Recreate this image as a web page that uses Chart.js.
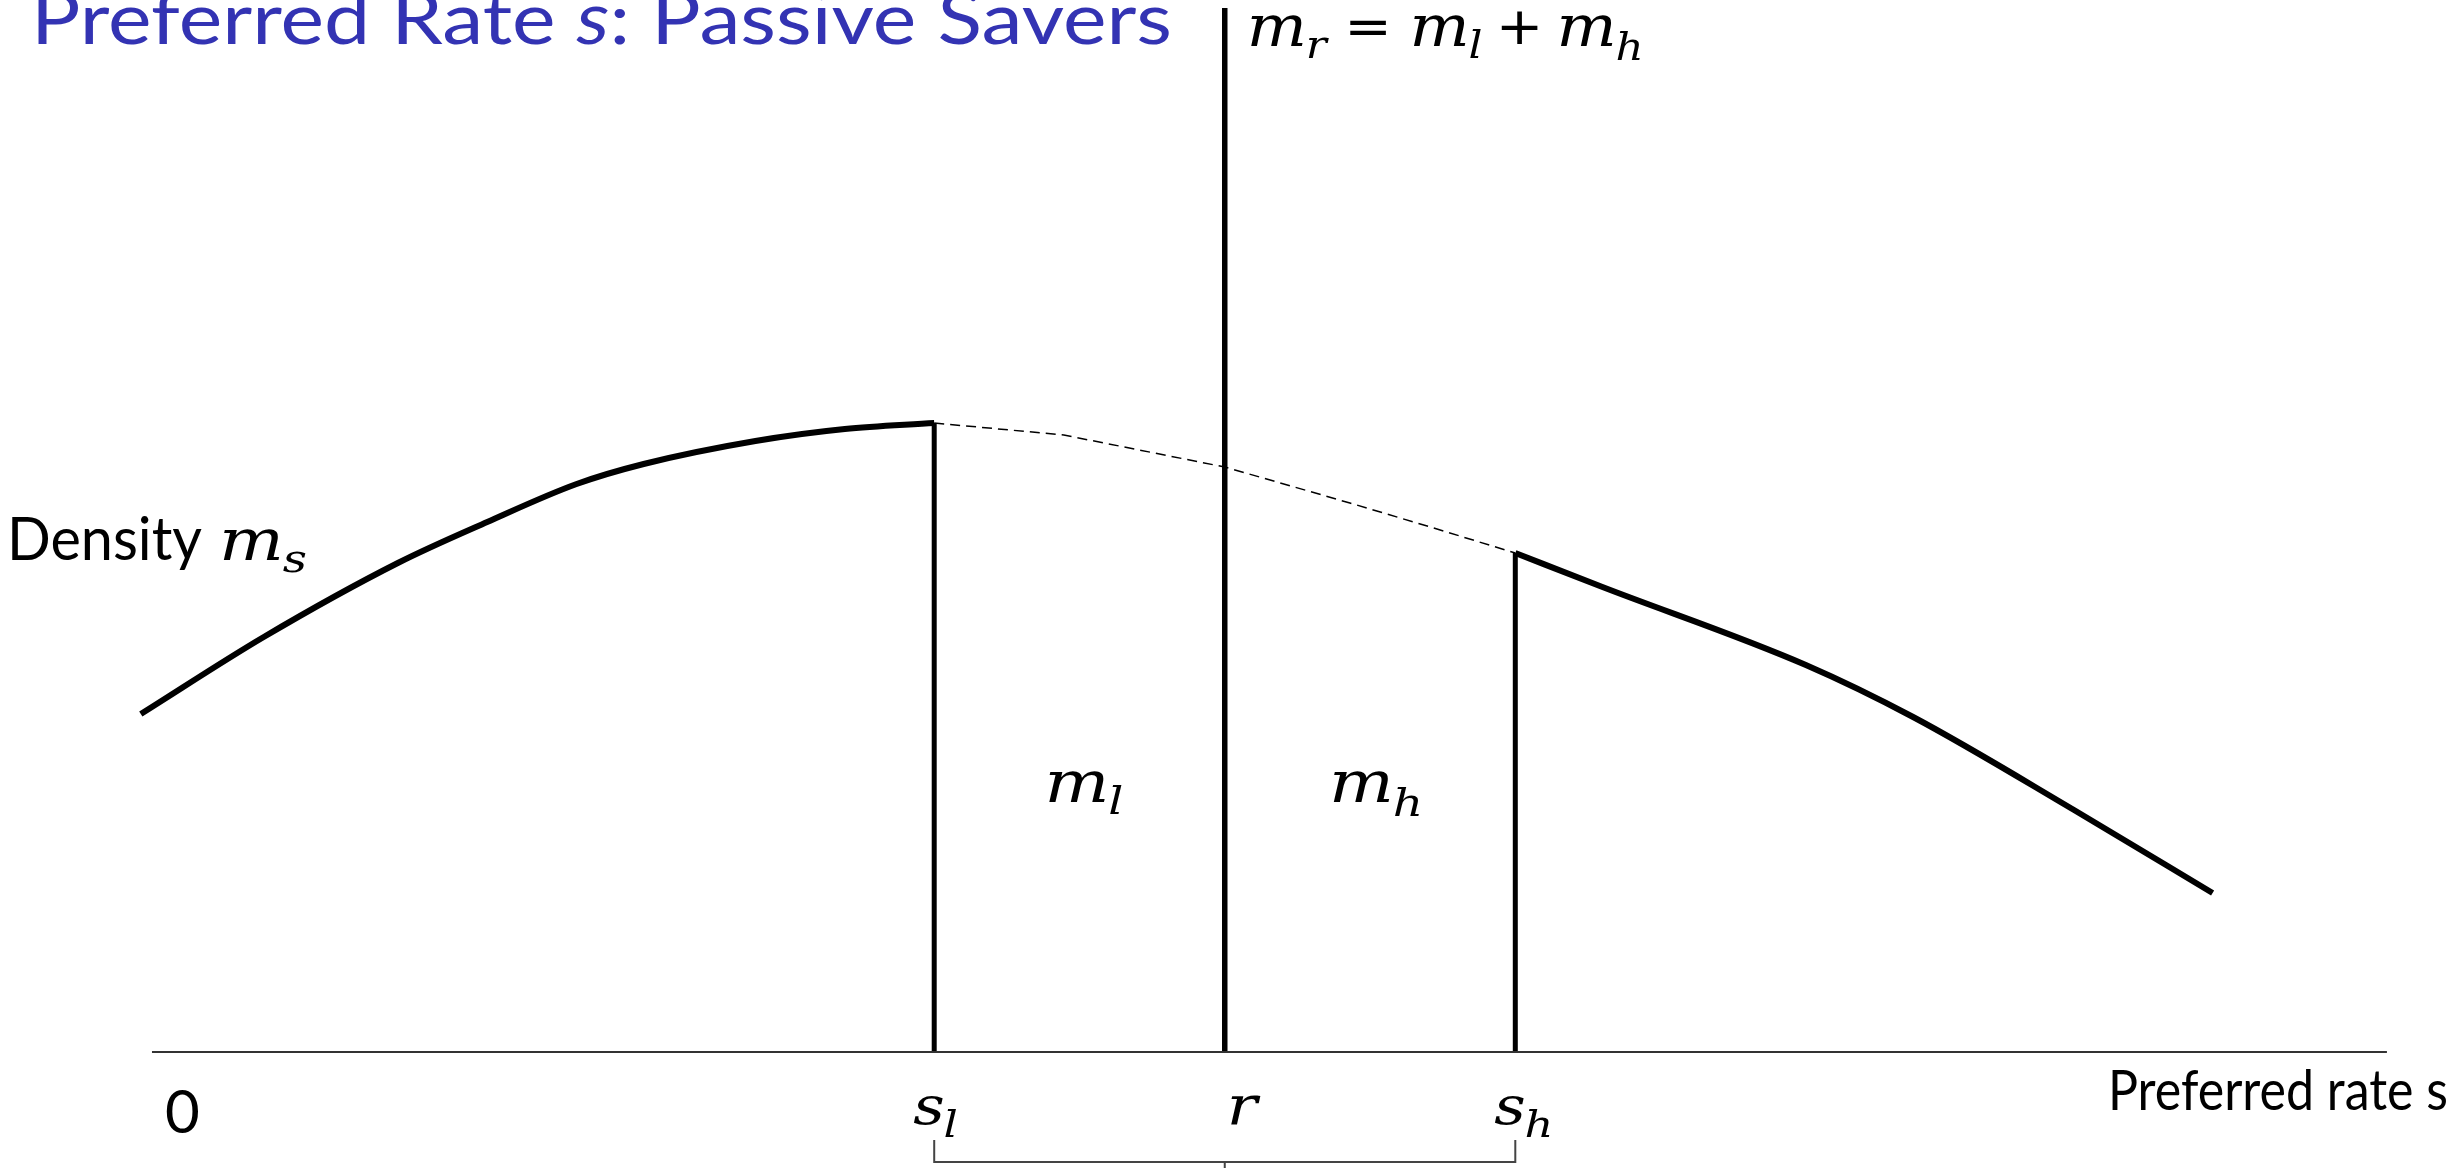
<!DOCTYPE html>
<html><head><meta charset="utf-8">
<script src="https://cdn.jsdelivr.net/npm/chart.js@4/dist/chart.umd.min.js"></script>
<style>html,body{margin:0;padding:0;background:#fff;overflow:hidden}canvas{display:block}</style>
</head><body>
<canvas id="c" width="2458" height="1168"></canvas>
<script>
// ---------- data ----------
const leftCurveX  = [-0.05, 0.5, 1.1, 1.5, 1.9, 2.2, 2.7, 3.1, 3.5];
const leftCurveY  = [3.38, 4.15, 4.89, 5.30, 5.68, 5.88, 6.11, 6.23, 6.29];
const hiddenX     = [3.5, 4.08, 4.8, 5.36, 5.72, 6.1];
const hiddenY     = [6.29, 6.17, 5.85, 5.49, 5.25, 4.99];
const rightCurveX = [6.1, 6.49, 7.4, 7.88, 8.6, 9.22];
const rightCurveY = [4.99, 4.65, 3.87, 3.35, 2.42, 1.59];
const sL = 3.5, rRate = 4.8, sH = 6.1;
const rLineTop = 10.44;
const axisX = [0, 10];
const tickValues = [0, sL, rRate, sH];
const tickLabels = ["0", "s_l", "r", "s_h"];

// ---------- helpers ----------
const pts = (xs, ys) => xs.map((x, i) => ({x, y: ys[i]}));
const base = {showLine: true, pointRadius: 0, borderColor: '#000', clip: false, fill: false};

const datasets = [
  {...base, data: pts(hiddenX, hiddenY), borderWidth: 1.5, borderDash: [10, 6]},
  {...base, data: pts(axisX, [0, 0]), borderWidth: 2, borderColor: '#333'},
  {...base, data: pts(leftCurveX, leftCurveY), borderWidth: 6, cubicInterpolationMode: 'monotone'},
  {...base, data: pts(rightCurveX, rightCurveY), borderWidth: 6, cubicInterpolationMode: 'monotone'},
  {...base, data: pts([sL, sL], [0, leftCurveY[leftCurveY.length - 1]]), borderWidth: 5},
  {...base, data: pts([rRate, rRate], [0, rLineTop]), borderWidth: 5.5},
  {...base, data: pts([sH, sH], [0, rightCurveY[0]]), borderWidth: 5},
  // bracket below the tick labels
  {...base, data: pts([sL, sL, sH, sH], [-0.88, -1.10, -1.10, -0.88]), borderWidth: 2, borderColor: '#444'},
  {...base, data: pts([rRate, rRate], [-1.10, -1.2]), borderWidth: 2, borderColor: '#444'}
];

const SANS = 'Lato, "DejaVu Sans", sans-serif';
const MATH = '"DejaVu Serif", serif';
const MSTRETCH = 1.18;

function fitText(ctx, parts, x, y, width) {
  let total = 0;
  parts.forEach(p => { ctx.font = p.font; total += ctx.measureText(p.text).width; });
  ctx.save();
  ctx.translate(x, y);
  ctx.scale(width / total, 1);
  let cx = 0;
  parts.forEach(p => { ctx.font = p.font; ctx.fillStyle = p.color || '#000'; ctx.fillText(p.text, cx, 0); cx += ctx.measureText(p.text).width; });
  ctx.restore();
}
function layout(ctx, tokens) {
  let w = 0;
  tokens.forEach(t => { ctx.font = t.font; t.w = ctx.measureText(t.text).width; w += t.w + (t.gap || 0); });
  return w;
}
function drawTokens(ctx, tokens, x, y, sx) {
  const w = layout(ctx, tokens);
  ctx.save();
  ctx.translate(x, y);
  ctx.scale(sx, 1);
  ctx.fillStyle = '#000';
  let cx = 0;
  tokens.forEach(t => { ctx.font = t.font; ctx.fillText(t.text, cx, t.dy || 0); cx += t.w + (t.gap || 0); });
  ctx.restore();
  return w * sx;
}
const M = (s) => 'italic ' + s + 'px ' + MATH;
function mathSub(ctx, main, sub, x, y, size, subSize, subDy) {
  const toks = [{text: main, font: M(size), gap: -1}];
  if (sub) toks.push({text: sub, font: M(subSize), dy: subDy});
  return drawTokens(ctx, toks, x, y, MSTRETCH);
}

const textPlugin = {
  id: 'texts',
  afterDatasetsDraw(chart) {
    const ctx = chart.ctx, xs = chart.scales.x;
    ctx.save();
    ctx.textBaseline = 'alphabetic';
    ctx.textAlign = 'left';
    // title
    const tFont = '72px ' + SANS, tIt = 'italic 72px ' + SANS, blue = '#3333B3';
    fitText(ctx, [{text: 'Preferred Rate ', font: tFont, color: blue}, {text: 's', font: tIt, color: blue}, {text: ': Passive Savers', font: tFont, color: blue}], 31, 44, 1141);
    // y label
    fitText(ctx, [{text: 'Density', font: '60px ' + SANS}], 7, 560, 195);
    mathSub(ctx, 'm', 's', 219, 560, 58, 40, 12);
    // x label
    fitText(ctx, [{text: 'Preferred rate s', font: '56px ' + SANS}], 2108, 1110, 340);
    // tick labels
    tickValues.forEach((v, i) => {
      const px = xs.getPixelForValue(v);
      const lab = tickLabels[i];
      if (lab === '0') {
        ctx.fillStyle = '#000';
        ctx.font = '60px ' + SANS;
        ctx.fillText('0', px + 13, 1133);
      } else if (lab === 'r') {
        mathSub(ctx, 'r', null, px + 2, 1124, 54, 38, 0);
      } else {
        const [m, s] = lab.split('_');
        mathSub(ctx, m, s, px - 21, 1124, 52, 38, 13);
      }
    });
    // area labels
    const pL = xs.getPixelForValue(sL), pR = xs.getPixelForValue(rRate), pH = xs.getPixelForValue(sH);
    const midL = (pL + pR) / 2, midH = (pR + pH) / 2;
    mathSub(ctx, 'm', 'l', midL - 35, 802, 58, 40, 12);
    mathSub(ctx, 'm', 'h', midH - 41, 802, 58, 40, 14);
    // equation at top of r line
    const OP = '52px "DejaVu Sans", sans-serif';
    const eq = [
      {text: 'm', font: M(58), gap: -1}, {text: 'r', font: M(40), dy: 12, gap: 16},
      {text: '=', font: OP, dy: -2, gap: 16},
      {text: 'm', font: M(58), gap: -1}, {text: 'l', font: M(40), dy: 12, gap: 12},
      {text: '+', font: OP, dy: -2, gap: 12},
      {text: 'm', font: M(58), gap: -1}, {text: 'h', font: M(40), dy: 14}
    ];
    const natural = layout(ctx, eq);
    drawTokens(ctx, eq, pR + 22, 46, 397 / natural);
    ctx.restore();
  }
};

new Chart(document.getElementById('c'), {
  type: 'scatter',
  data: {datasets},
  options: {
    responsive: false, animation: false, devicePixelRatio: 1,
    layout: {padding: 0},
    plugins: {legend: {display: false}, tooltip: {enabled: false}, title: {display: false}},
    scales: {
      x: {type: 'linear', min: -0.680, max: 10.318, display: false},
      y: {type: 'linear', min: -1.16, max: 10.52, display: false}
    }
  },
  plugins: [textPlugin]
});
</script>
</body></html>
